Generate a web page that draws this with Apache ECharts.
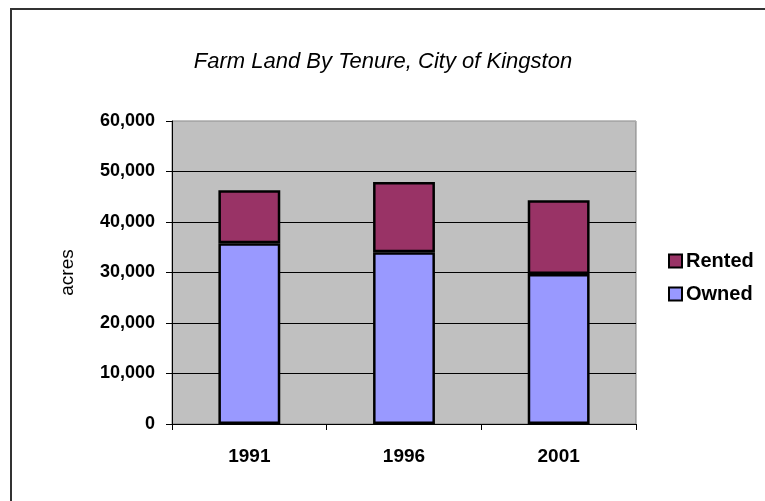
<!DOCTYPE html>
<html>
<head>
<meta charset="utf-8">
<script src="https://cdn.jsdelivr.net/npm/echarts@6/dist/echarts.min.js"></script>
<style>
  html, body { margin: 0; padding: 0; background: #fff; }
  #chart { width: 765px; height: 501px; }
</style>
</head>
<body>
<div id="chart"></div>
<script>
const years = ['1991', '1996', '2001'];
const owned = [35800, 34000, 29700];
const rented = [10500, 13900, 14600];
const yTicks = [0, 10000, 20000, 30000, 40000, 50000, 60000];

const font = '"Liberation Sans", Arial, sans-serif';

const chart = echarts.init(document.getElementById('chart'));

const option = {
  backgroundColor: '#fff',
  animation: false,
  graphic: [{
    type: 'rect',
    shape: { x: 11, y: 9, width: 800, height: 600 },
    style: { fill: 'none', stroke: '#333', lineWidth: 2 },
    silent: true
  }],
  title: {
    text: 'Farm Land By Tenure, City of Kingston',
    left: 378,
    textAlign: 'center',
    top: 46,
    textStyle: {
      fontFamily: font,
      fontStyle: 'italic',
      fontWeight: 'normal',
      fontSize: 22,
      color: '#000'
    }
  },
  legend: {
    orient: 'vertical',
    left: 663,
    top: 246,
    itemWidth: 13,
    itemHeight: 13,
    itemGap: 13,
    icon: 'rect',
    data: ['Rented', 'Owned'],
    selectedMode: false,
    textStyle: { fontFamily: font, fontWeight: 'bold', fontSize: 20, color: '#000', padding: [0, 0, 0, -1] }
  },
  grid: {
    left: 172,
    right: 129,
    top: 121,
    bottom: 77,
    show: true,
    backgroundColor: '#c0c0c0',
    borderColor: '#808080',
    borderWidth: 1
  },
  xAxis: {
    type: 'category',
    data: years,
    axisLine: { lineStyle: { color: '#000', width: 1 } },
    axisTick: { show: true, length: 6, lineStyle: { color: '#000' } },
    axisLabel: {
      margin: 23,
      fontFamily: font,
      fontWeight: 'bold',
      fontSize: 19,
      color: '#000'
    }
  },
  yAxis: {
    type: 'value',
    min: yTicks[0],
    max: yTicks[yTicks.length - 1],
    interval: 10000,
    name: 'acres',
    nameLocation: 'middle',
    nameGap: 95,
    nameTextStyle: { fontFamily: font, fontSize: 19, color: '#000' },
    axisLine: { show: true, lineStyle: { color: '#000', width: 1 } },
    axisTick: { show: true, length: 6, lineStyle: { color: '#000' } },
    axisLabel: {
      margin: 17,
      fontFamily: font,
      fontWeight: 'bold',
      fontSize: 18,
      color: '#000',
      formatter: v => v.toLocaleString('en-US')
    },
    splitLine: {
      show: true,
      lineStyle: {
        color: ['#000', '#000', '#000', '#000', '#000', '#000', '#a8a8a8'],
        width: 1
      }
    }
  },
  series: [
    {
      name: 'Owned',
      type: 'bar',
      stack: 'total',
      barWidth: '40%',
      data: owned,
      itemStyle: { color: '#9999ff', borderColor: '#000', borderWidth: 2.5 }
    },
    {
      name: 'Rented',
      type: 'bar',
      stack: 'total',
      barWidth: '40%',
      data: rented,
      itemStyle: { color: '#993366', borderColor: '#000', borderWidth: 2.5 }
    }
  ]
};

chart.setOption(option);
</script>
</body>
</html>
